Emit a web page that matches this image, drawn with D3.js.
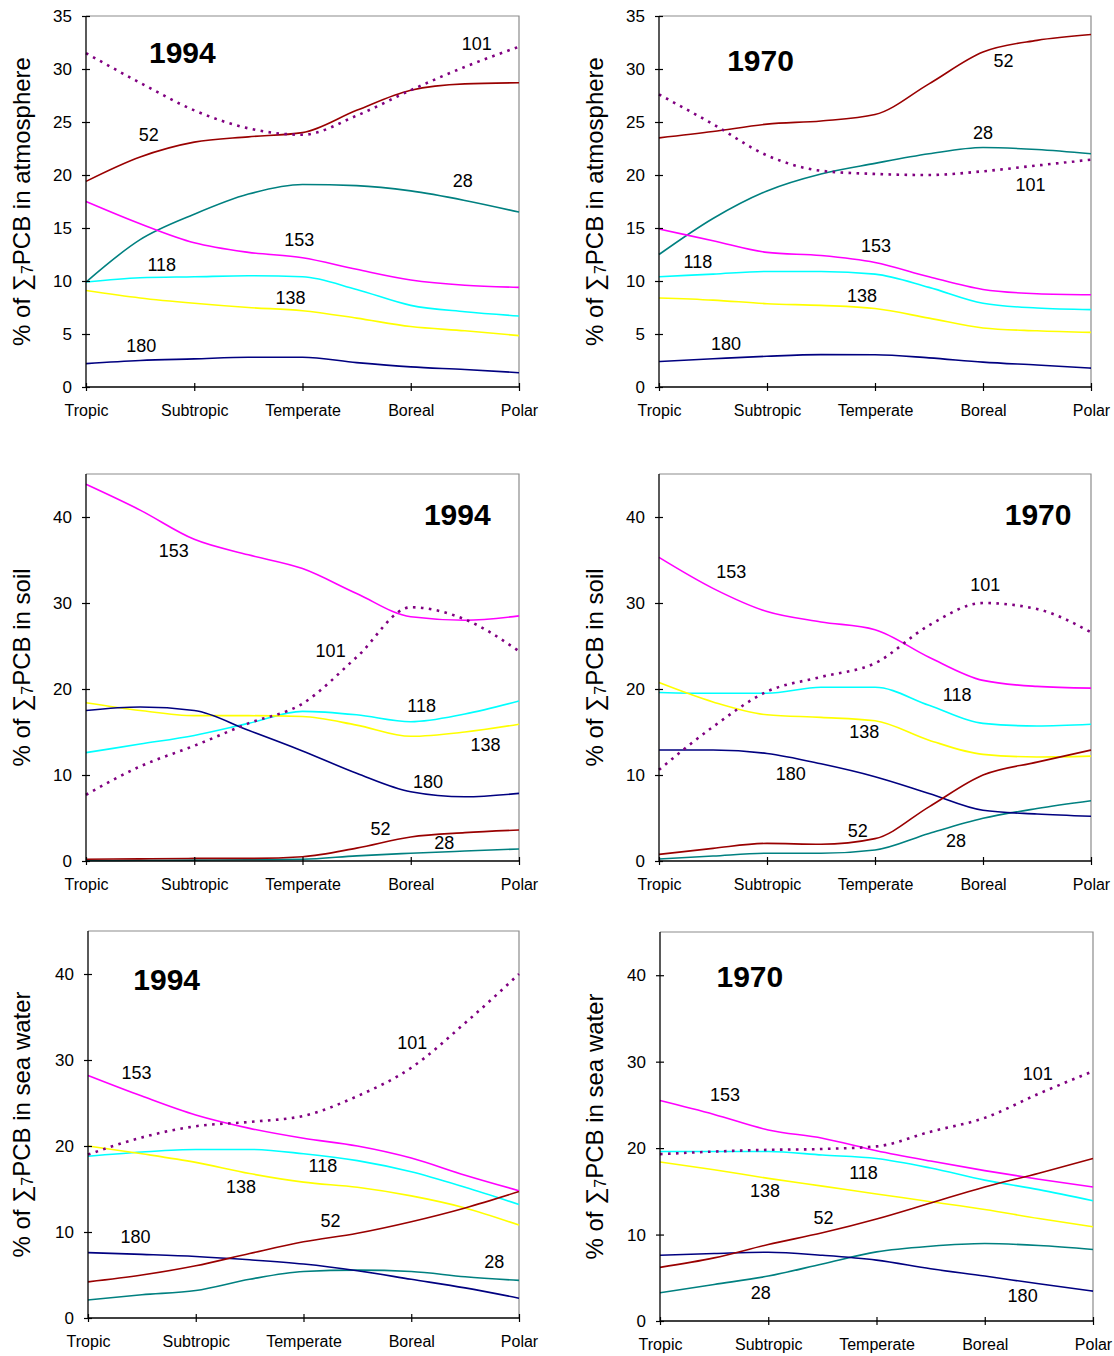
<!DOCTYPE html>
<html><head><meta charset="utf-8">
<script src="https://cdn.jsdelivr.net/npm/d3@7"></script>
<style>
html,body{margin:0;padding:0;background:#fff;}
text{font-family:"Liberation Sans",Arial,Helvetica,sans-serif;}
</style></head>
<body>
<svg id="chart" width="1114" height="1356"></svg>
<script>
// ---------- data ----------
const categories = ["Tropic","Subtropic","Temperate","Boreal","Polar"];
const positions = [0,0.5,1,1.5,2,2.5,3,3.5,4];
const congeners = ["52","101","28","153","118","138","180"];

// atmosphere 1994
const atm1994_52  = [19.4,21.7,23.1,23.6,24.0,26.1,28.0,28.6,28.7];
const atm1994_101 = [31.5,28.7,26.1,24.4,23.8,25.6,28.0,30.2,32.1];
const atm1994_28  = [9.9,13.9,16.3,18.2,19.1,19.0,18.5,17.6,16.5];
const atm1994_153 = [17.5,15.4,13.6,12.7,12.2,11.1,10.1,9.6,9.4];
const atm1994_118 = [9.9,10.3,10.4,10.5,10.4,9.2,7.7,7.1,6.7];
const atm1994_138 = [9.1,8.4,7.9,7.5,7.2,6.5,5.7,5.3,4.85];
const atm1994_180 = [2.2,2.5,2.65,2.8,2.8,2.3,1.9,1.65,1.35];
// atmosphere 1970
const atm1970_52  = [23.5,24.1,24.8,25.1,25.7,28.6,31.6,32.7,33.25];
const atm1970_101 = [27.6,24.8,21.85,20.4,20.1,20.0,20.35,20.9,21.45];
const atm1970_28  = [12.5,15.9,18.5,20.1,21.1,22.0,22.6,22.4,22.0];
const atm1970_153 = [14.9,13.8,12.7,12.4,11.75,10.4,9.2,8.8,8.7];
const atm1970_118 = [10.4,10.65,10.9,10.9,10.65,9.4,7.9,7.45,7.3];
const atm1970_138 = [8.4,8.2,7.86,7.7,7.4,6.5,5.57,5.3,5.15];
const atm1970_180 = [2.4,2.66,2.9,3.05,3.04,2.75,2.35,2.07,1.78];
// soil 1994
const soil1994_52  = [0.2,0.25,0.3,0.3,0.5,1.5,2.8,3.3,3.6];
const soil1994_101 = [7.7,11.0,13.4,16.0,18.3,23.7,29.5,28.1,24.4];
const soil1994_28  = [0.05,0.08,0.1,0.15,0.2,0.6,0.9,1.16,1.4];
const soil1994_153 = [43.8,40.8,37.4,35.6,34.0,31.1,28.4,28.0,28.5];
const soil1994_118 = [12.6,13.6,14.6,16.0,17.4,17.0,16.2,17.1,18.6];
const soil1994_138 = [18.4,17.5,16.9,16.9,16.8,15.8,14.5,15.0,15.9];
const soil1994_180 = [17.5,17.9,17.5,15.2,12.8,10.2,8.05,7.47,7.86];
// soil 1970
const soil1970_52  = [0.77,1.47,2.05,1.94,2.6,6.3,10.0,11.5,12.9];
const soil1970_101 = [10.6,15.6,19.7,21.4,23.0,27.4,30.0,29.3,26.6];
const soil1970_28  = [0.23,0.58,0.9,0.9,1.28,3.2,4.96,6.1,7.0];
const soil1970_153 = [35.3,31.7,29.0,27.8,26.9,23.7,21.0,20.3,20.1];
const soil1970_118 = [19.6,19.5,19.5,20.2,20.2,18.1,16.0,15.7,15.9];
const soil1970_138 = [20.75,18.5,17.0,16.7,16.3,14.05,12.4,12.1,12.2];
const soil1970_180 = [12.9,12.9,12.5,11.3,9.8,7.86,5.9,5.46,5.2];
// sea water 1994
const sea1994_52  = [4.2,5.0,6.07,7.5,8.86,9.86,11.2,12.8,14.7];
const sea1994_101 = [19.0,21.0,22.3,22.8,23.5,25.8,29.1,34.3,40.0];
const sea1994_28  = [2.1,2.7,3.2,4.5,5.4,5.57,5.4,4.8,4.37];
const sea1994_153 = [28.2,25.8,23.6,22.05,20.9,20.0,18.6,16.6,14.8];
const sea1994_118 = [18.8,19.3,19.6,19.6,19.1,18.3,17.0,15.2,13.2];
const sea1994_138 = [20.0,19.1,18.1,16.8,15.8,15.2,14.2,12.8,10.8];
const sea1994_180 = [7.6,7.4,7.16,6.77,6.27,5.5,4.5,3.5,2.3];
// sea water 1970
const sea1970_52  = [6.2,7.3,8.85,10.2,11.8,13.65,15.5,17.1,18.8];
const sea1970_101 = [19.3,19.6,19.8,19.9,20.2,21.9,23.5,26.3,28.9];
const sea1970_28  = [3.27,4.23,5.2,6.6,8.0,8.65,8.96,8.73,8.27];
const sea1970_153 = [25.5,23.9,22.1,21.15,19.7,18.5,17.4,16.4,15.5];
const sea1970_118 = [19.6,19.6,19.6,19.2,18.8,17.7,16.3,15.2,13.9];
const sea1970_138 = [18.4,17.5,16.5,15.6,14.7,13.8,12.9,11.85,10.9];
const sea1970_180 = [7.6,7.8,7.96,7.6,7.04,6.04,5.2,4.3,3.46];

// annotation labels: [text, x (category index), y (value)]
const atm1994_labels  = [["101",3.61,32.4],["52",0.58,23.8],["28",3.48,19.5],["153",1.97,13.9],["118",0.70,11.5],["138",1.89,8.4],["180",0.51,3.9]];
const atm1970_labels  = [["52",3.19,30.75],["28",3.0,24.0],["101",3.44,19.1],["153",2.01,13.3],["118",0.36,11.8],["138",1.88,8.6],["180",0.62,4.06]];
const soil1994_labels = [["153",0.81,36.1],["101",2.26,24.4],["118",3.10,18.1],["138",3.69,13.5],["180",3.16,9.2],["52",2.72,3.7],["28",3.31,2.1]];
const soil1970_labels = [["153",0.67,33.6],["101",3.02,32.1],["118",2.76,19.3],["138",1.90,15.0],["180",1.22,10.2],["52",1.84,3.5],["28",2.75,2.4]];
const sea1994_labels  = [["101",3.01,32.0],["153",0.45,28.5],["118",2.18,17.7],["138",1.42,15.3],["52",2.25,11.3],["180",0.44,9.4],["28",3.77,6.5]];
const sea1970_labels  = [["101",3.49,28.6],["153",0.60,26.2],["118",1.88,17.2],["138",0.97,15.1],["52",1.51,11.9],["28",0.93,3.3],["180",3.35,2.9]];
// year label positions [x, y]
const yearPos = {atm1994:[0.89,31.6], atm1970:[0.94,30.8], soil1994:[3.43,40.3], soil1970:[3.51,40.3], sea1994:[0.73,39.4], sea1970:[0.83,39.8]};

// ---------- styles ----------
const colors = {"52":"#990000","101":"#800080","28":"#008080","153":"#FF00FF","118":"#00FFFF","138":"#FFFF00","180":"#000080"};

const panels = [
  {id:"atm1994", year:"1994", medium:"atmosphere", series:[atm1994_52,atm1994_101,atm1994_28,atm1994_153,atm1994_118,atm1994_138,atm1994_180], labels:atm1994_labels, box:[86,519,16,387], ymax:35, step:5, ylabX:22},
  {id:"atm1970", year:"1970", medium:"atmosphere", series:[atm1970_52,atm1970_101,atm1970_28,atm1970_153,atm1970_118,atm1970_138,atm1970_180], labels:atm1970_labels, box:[659,1091,16,387], ymax:35, step:5, ylabX:595},
  {id:"soil1994", year:"1994", medium:"soil", series:[soil1994_52,soil1994_101,soil1994_28,soil1994_153,soil1994_118,soil1994_138,soil1994_180], labels:soil1994_labels, box:[86,519,474,861], ymax:45, step:10, ylabX:22},
  {id:"soil1970", year:"1970", medium:"soil", series:[soil1970_52,soil1970_101,soil1970_28,soil1970_153,soil1970_118,soil1970_138,soil1970_180], labels:soil1970_labels, box:[659,1091,474,861], ymax:45, step:10, ylabX:595},
  {id:"sea1994", year:"1994", medium:"sea water", series:[sea1994_52,sea1994_101,sea1994_28,sea1994_153,sea1994_118,sea1994_138,sea1994_180], labels:sea1994_labels, box:[88,519,931,1318], ymax:45, step:10, ylabX:22},
  {id:"sea1970", year:"1970", medium:"sea water", series:[sea1970_52,sea1970_101,sea1970_28,sea1970_153,sea1970_118,sea1970_138,sea1970_180], labels:sea1970_labels, box:[660,1093,932,1321], ymax:45, step:10, ylabX:595}
];

const svg = d3.select("#chart");
svg.append("rect").attr("width",1114).attr("height",1356).attr("fill","#fff");

panels.forEach(p => {
  const [L,R,T,B] = p.box;
  const x = d3.scaleLinear().domain([0,4]).range([L,R]);
  const y = d3.scaleLinear().domain([0,p.ymax]).range([B,T]);
  const g = svg.append("g");

  // frame (top & right)
  g.append("path").attr("d",`M${L},${T}H${R}V${B}`).attr("fill","none").attr("stroke","#8c8c8c").attr("stroke-width",1.2);

  // lines
  const line = d3.line().x(d=>x(d[0])).y(d=>y(d[1])).curve(d3.curveMonotoneX);
  const order = [2,3,4,5,6,0,1];
  order.forEach(i => {
    const key = congeners[i];
    const pts = positions.map((px,j)=>[px,p.series[i][j]]);
    const path = g.append("path").attr("d",line(pts)).attr("fill","none")
      .attr("stroke",colors[key]);
    if (key==="101") path.attr("stroke-width",2.6).attr("stroke-dasharray","2.6,5.4");
    else path.attr("stroke-width",1.6);
  });

  // axes
  const yTicks = d3.range(0,p.ymax===35?35.01:40.01,p.step);
  const ya = g.append("g").attr("transform",`translate(${L},0)`)
    .call(d3.axisLeft(y).tickValues(yTicks).tickSize(4).tickPadding(10).tickFormat(d3.format("d")));
  ya.select(".domain").remove();
  ya.append("line").attr("x1",0).attr("x2",0).attr("y1",y(0)).attr("y2",T).attr("stroke","#000").attr("stroke-width",1.3);
  ya.selectAll(".tick line").attr("x1",4).attr("stroke","#000").attr("stroke-width",1.2);
  ya.selectAll(".tick text").attr("font-size",17).attr("fill","#000").attr("font-family","Liberation Sans, Arial, sans-serif");

  const xa = g.append("g").attr("transform",`translate(0,${B})`)
    .call(d3.axisBottom(x).tickValues([0,1,2,3,4]).tickSize(4).tickPadding(14).tickFormat(i=>categories[i]));
  xa.select(".domain").remove();
  xa.append("line").attr("x1",L).attr("x2",R).attr("y1",0).attr("y2",0).attr("stroke","#000").attr("stroke-width",1.3);
  xa.selectAll(".tick line").attr("y1",-4).attr("stroke","#000").attr("stroke-width",1.2);
  xa.selectAll(".tick text").attr("font-size",16).attr("fill","#000").attr("font-family","Liberation Sans, Arial, sans-serif");

  // y label
  const cy = (T+B)/2;
  const yl = g.append("text").attr("transform",`translate(${p.ylabX},${cy}) rotate(-90)`)
    .attr("text-anchor","middle").attr("dy","0.35em").attr("font-size",24).attr("fill","#000");
  yl.append("tspan").text("% of \u2211");
  yl.append("tspan").attr("font-size",16).attr("dy",3).text("7");
  yl.append("tspan").attr("dy",-3).text("PCB in " + p.medium);

  // series labels
  p.labels.forEach(l => {
    g.append("text").attr("x",x(l[1])).attr("y",y(l[2])).attr("dy","0.35em")
      .attr("text-anchor","middle").attr("font-size",18).attr("fill","#000").text(l[0]);
  });

  // year
  const yp = yearPos[p.id];
  g.append("text").attr("x",x(yp[0])).attr("y",y(yp[1])).attr("dy","0.35em")
    .attr("text-anchor","middle").attr("font-size",30).attr("font-weight","bold").attr("fill","#000").text(p.year);
});
</script>
</body></html>
